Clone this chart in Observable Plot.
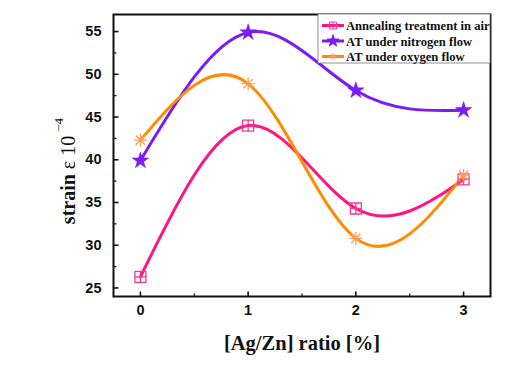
<!DOCTYPE html>
<html><head><meta charset="utf-8">
<script src="https://cdn.jsdelivr.net/npm/d3@7"></script>
<script src="https://cdn.jsdelivr.net/npm/@observablehq/plot@0.6"></script>
<style>body{margin:0;background:#fff;} #chart svg{display:block;}</style>
</head><body><div id="chart"></div>
<script>
const ratios = [0, 1, 2, 3];
const seriesNames = ["Annealing treatment in air", "AT under nitrogen flow", "AT under oxygen flow"];
const airStrain = [26.3, 44.0, 34.3, 37.7];
const nitrogenStrain = [39.9, 54.9, 48.1, 45.8];
const oxygenStrain = [42.3, 48.9, 30.8, 38.2];
const lineColors = ["#ff1480", "#7a1cf2", "#ff8c00"];
const markerColors = ["#ee3b9b", "#7a1cf2", "#f4a15a"];
const yTicks = [25, 30, 35, 40, 45, 50, 55];
const yMinorTicks = [27.5, 32.5, 37.5, 42.5, 47.5, 52.5];
const xTicks = [0, 1, 2, 3];
const xMinorTicks = [0.5, 1.5, 2.5];
const xLabel = "[Ag/Zn] ratio [%]";

const squareCross = {draw(ctx, size) {
  const r = Math.sqrt(size / Math.PI);
  ctx.moveTo(-r, -r); ctx.lineTo(r, -r); ctx.lineTo(r, r); ctx.lineTo(-r, r); ctx.closePath();
  ctx.moveTo(-r, 0); ctx.lineTo(r, 0); ctx.moveTo(0, -r); ctx.lineTo(0, r);
}};
const asterisk = {draw(ctx, size) {
  const r = Math.sqrt(size / Math.PI);
  for (let k = 0; k < 4; k++) {
    const a = k * Math.PI / 4;
    ctx.moveTo(-r * Math.cos(a), -r * Math.sin(a));
    ctx.lineTo(r * Math.cos(a), r * Math.sin(a));
  }
}};
const tickRight = {draw(ctx, size) { const r = Math.sqrt(size / Math.PI); ctx.moveTo(0, 0); ctx.lineTo(r, 0); }};
const tickUp = {draw(ctx, size) { const r = Math.sqrt(size / Math.PI); ctx.moveTo(0, 0); ctx.lineTo(0, -r); }};

const symbols = [squareCross, d3.symbolStar, asterisk];
const seriesValues = [airStrain, nitrogenStrain, oxygenStrain];
const data = seriesValues.map((vals, i) => ratios.map((x, j) => ({x, y: vals[j], s: i})));

const marks = [];
data.forEach((d, i) => {
  marks.push(Plot.line(d, {x: "x", y: "y", curve: "natural", stroke: lineColors[i], strokeWidth: 3}));
});
data.forEach((d, i) => {
  if (i === 1) {
    marks.push(Plot.dot(d, {x: "x", y: "y", symbol: symbols[i], r: 5.2, fill: markerColors[i], stroke: markerColors[i], strokeWidth: 0.5}));
  } else {
    marks.push(Plot.dot(d, {x: "x", y: "y", symbol: symbols[i], r: i === 0 ? 5.5 : 6.5, fill: "none", stroke: markerColors[i], strokeWidth: 1.3}));
  }
});

const chart = Plot.plot({
  width: 529, height: 365,
  marginLeft: 113, marginRight: 39, marginTop: 14, marginBottom: 69,
  style: {fontFamily: "'Liberation Sans', Arial, sans-serif", fontSize: "14.5px", fontWeight: "bold", color: "#111"},
  x: {domain: [-0.25, 3.25]},
  y: {domain: [24, 57]},
  marks: [
    Plot.axisY({ticks: yTicks, tickSize: 0, tickPadding: 12, label: null}),
    Plot.axisX({ticks: xTicks, tickSize: 0, tickPadding: 8, label: null, tickFormat: d3.format("d")}),
    Plot.dot(yTicks, {y: d => d, frameAnchor: "left", symbol: tickRight, r: 5, stroke: "#111", strokeWidth: 1.6}),
    Plot.dot(yMinorTicks, {y: d => d, frameAnchor: "left", symbol: tickRight, r: 3, stroke: "#111", strokeWidth: 1.2}),
    Plot.dot(xTicks, {x: d => d, frameAnchor: "bottom", symbol: tickUp, r: 5, stroke: "#111", strokeWidth: 1.6}),
    Plot.dot(xMinorTicks, {x: d => d, frameAnchor: "bottom", symbol: tickUp, r: 3, stroke: "#111", strokeWidth: 1.2}),
    ...marks,
    Plot.frame({stroke: "#111", strokeWidth: 2})
  ]
});
document.getElementById("chart").appendChild(chart);

const svg = d3.select(chart);
const lg = svg.append("g").attr("text-anchor", "start");
lg.append("rect").attr("x", 318).attr("y", 14).attr("width", 172).attr("height", 49)
  .attr("fill", "#fff").attr("stroke", "#777").attr("stroke-width", 0.8);
seriesNames.forEach((name, i) => {
  const y = 25.5 + i * 15.5;
  lg.append("line").attr("x1", 322).attr("x2", 344).attr("y1", y).attr("y2", y)
    .attr("stroke", lineColors[i]).attr("stroke-width", 3);
  const sym = d3.symbol().type(symbols[i]).size(i === 1 ? 14 * Math.PI : 12 * Math.PI);
  lg.append("path").attr("d", sym()).attr("transform", `translate(333,${y})`)
    .attr("fill", i === 1 ? markerColors[i] : "none").attr("stroke", markerColors[i]).attr("stroke-width", 1);
  lg.append("text").attr("x", 346).attr("y", y + 4.5).attr("text-anchor", "start").text(name)
    .attr("font-family", "'Liberation Serif', 'Times New Roman', serif")
    .attr("font-weight", "bold").attr("font-size", 12.6).attr("fill", "#111");
});
svg.append("text").attr("x", 302).attr("y", 350).attr("text-anchor", "middle")
  .attr("font-family", "'Liberation Serif', 'Times New Roman', serif").attr("font-weight", "bold")
  .attr("font-size", 20.5).attr("fill", "#111").text(xLabel);
const yl = svg.append("text").attr("transform", "translate(75,171) rotate(-90)").attr("text-anchor", "middle")
  .attr("font-family", "'Liberation Serif', 'Times New Roman', serif").attr("font-size", 20).attr("fill", "#111");
yl.append("tspan").attr("font-weight", "bold").text("strain ");
yl.append("tspan").attr("font-weight", "normal").text("ε 10");
yl.append("tspan").attr("font-weight", "normal").attr("font-size", 13).attr("dx", 4).attr("dy", -12).text("−4");
</script>
</body></html>
